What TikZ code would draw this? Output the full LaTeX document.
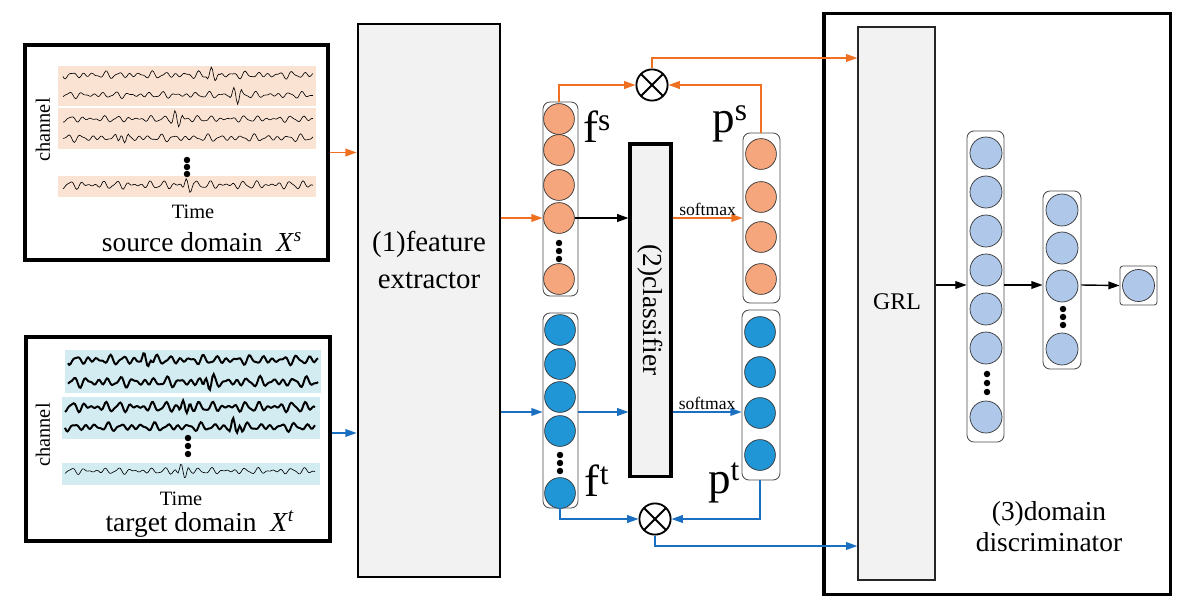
\documentclass[tikz,border=0pt]{standalone}
\usepackage{fontspec}
\setmainfont{Liberation Serif}[Ligatures=TeX]
\renewcommand{\familydefault}{\rmdefault}
\usetikzlibrary{arrows.meta,positioning}

\definecolor{boxgray}{HTML}{F2F2F2}
\definecolor{srcband}{HTML}{FBE3D4}
\definecolor{tgtband}{HTML}{D2ECF2}
\definecolor{srcnode}{HTML}{F5A67C}
\definecolor{tgtnode}{HTML}{2196D6}
\definecolor{disnode}{HTML}{AFC8EA}
\definecolor{srcline}{HTML}{F07021}
\definecolor{tgtline}{HTML}{1B6FC1}

% one EEG trace: x0, length, y, phase, amplitude, spike pos, spike height, style
\newcommand{\eegline}[8]{%
  \draw[#8] plot[domain=0:#2, samples=200] ({#1+\x},
    {#3 + #5*(0.45*sin(31*\x+#4) + 0.35*sin(23*\x+2*#4) + 0.3*sin(47*\x+3*#4))
      + #7*max(0,1-((\x-#6)/7)^2)*sin(45*(\x-#6))});
}

\begin{document}
\begin{tikzpicture}
  [x=0.025cm, y=-0.025cm, font=\rmfamily,
   panel/.style={draw=black, line width=2.2pt, fill=white},
   block/.style={draw=black, line width=2pt, fill=boxgray},
   grlblock/.style={draw=black!85, line width=1pt, fill=boxgray},
   layer/.style={draw=black!70, line width=0.6pt, rounded corners=5pt, fill=white, inner sep=0pt},
   unit/.style={circle, draw=black!80, line width=0.5pt, inner sep=0pt, minimum size=0.77cm},
   srcunit/.style={unit, fill=srcnode},
   tgtunit/.style={unit, fill=tgtnode},
   disunit/.style={unit, fill=disnode, minimum size=0.8cm},
   prod/.style={circle, draw=black, line width=1.3pt, minimum size=0.78cm, inner sep=0pt,
     path picture={\draw[line width=1.3pt]
       (path picture bounding box.north west) -- (path picture bounding box.south east)
       (path picture bounding box.north east) -- (path picture bounding box.south west);}},
   tip/.style={-{Triangle[length=8pt, width=5.5pt]}},
   srcwire/.style={tip, draw=srcline, line width=1pt},
   tgtwire/.style={tip, draw=tgtline, line width=1pt},
   blkwire/.style={tip, draw=black, line width=1pt},
   bigfont/.style={font=\rmfamily\fontsize{19.5}{22}\selectfont},
   midfont/.style={font=\rmfamily\fontsize{14.5}{16}\selectfont},
   symfont/.style={font=\rmfamily\fontsize{32}{34}\selectfont, inner sep=0pt},
   smallfont/.style={font=\rmfamily\fontsize{12.5}{14}\selectfont, inner sep=1pt},
   wave/.style={draw=black, line width=0.45pt},
   boldwave/.style={draw=black, line width=1.4pt}]

  \useasboundingbox (0,0) rectangle (1200,612);

  % source domain
  \node[panel, minimum width=7.575cm, minimum height=5.375cm] (src) at (176.5,152.5) {};
  \fill[srcband] (58,66) rectangle (316,106);
  \fill[srcband] (58,108) rectangle (316,149);
  \fill[srcband] (58,176) rectangle (316,197);
  \eegline{63}{250}{75}{10}{4}{150}{7}{wave}
  \eegline{63}{250}{95}{70}{3.5}{173}{8}{wave}
  \eegline{63}{250}{119}{35}{3.5}{114}{8}{wave}
  \eegline{63}{250}{138}{95}{4}{60}{7}{wave}
  \eegline{63}{250}{185}{50}{4.5}{125}{6}{wave}
  \foreach \yy in {160,167,174}
    \fill (187,\yy) circle[radius=2.3pt];
  \node[midfont, rotate=90] (srcch) at (43,130) {channel};
  \node[midfont] (srctime) at (193,212) {Time};
  \node[bigfont] (srcname) at (202,242) {source domain\enspace\textit{X}\textsuperscript{\textit{s}}};

  % target domain
  \node[panel, minimum width=7.6cm, minimum height=5.1cm] (tgt) at (178,439) {};
  \fill[tgtband] (65,350) rectangle (321,393);
  \fill[tgtband] (62,397) rectangle (320,439);
  \fill[tgtband] (62,463) rectangle (320,485);
  \eegline{68}{250}{360}{20}{5}{78}{7}{boldwave}
  \eegline{68}{250}{382}{80}{5.5}{140}{6}{boldwave}
  \eegline{65}{250}{407}{45}{5.5}{120}{6}{boldwave}
  \eegline{65}{250}{427}{5}{4.5}{170}{8}{boldwave}
  \eegline{65}{250}{471}{60}{3.5}{118}{7}{wave}
  \foreach \yy in {438,446,454}
    \fill (188,\yy) circle[radius=2.3pt];
  \node[midfont, rotate=90] (tgtch) at (43,435) {channel};
  \node[midfont] (tgttime) at (181,499) {Time};
  \node[bigfont] (tgtname) at (200,524) {target domain\enspace\textit{X}\textsuperscript{\textit{t}}};

  % (1) feature extractor
  \node[block, minimum width=3.55cm, minimum height=13.825cm] (fe) at (429,300.5) {};
  \node[font=\rmfamily\fontsize{20.5}{26}\selectfont, align=center] (fetext) at (429,260) {(1)feature\\extractor};

  % (2) classifier
  \node[block, line width=2.2pt, minimum width=1.025cm, minimum height=8.3cm] (cls) at (650.5,310) {};
  \node[bigfont, rotate=-90] (clstext) at (650.5,310) {(2)classifier};

  % feature and prediction layers
  \node[layer, minimum width=0.875cm, minimum height=4.85cm] (fs) at (560.5,199) {};
  \node[layer, minimum width=0.925cm, minimum height=4.25cm] (ps) at (761.5,218) {};
  \node[layer, minimum width=0.875cm, minimum height=4.875cm] (ft) at (560.5,410.5) {};
  \node[layer, minimum width=0.95cm, minimum height=4.25cm] (pt) at (761,395) {};
  \foreach \yy [count=\i] in {119,150,185,218,279}
    \node[srcunit] (fs\i) at (559,\yy) {};
  \foreach \yy [count=\i] in {154,197,237,279}
    \node[srcunit] (ps\i) at (761,\yy) {};
  \foreach \yy [count=\i] in {330,364,397,431,493}
    \node[tgtunit] (ft\i) at (560,\yy) {};
  \foreach \yy [count=\i] in {332,372,413,455}
    \node[tgtunit] (pt\i) at (760,\yy) {};
  \foreach \yy in {243,251,259}
    \fill (559,\yy) circle[radius=2.3pt];
  \foreach \yy in {455,463,471}
    \fill (560,\yy) circle[radius=2.3pt];
  \node[symfont] (fslbl) at (597,127) {f\textsuperscript{s}};
  \node[symfont] (pslbl) at (730,124) {p\textsuperscript{s}};
  \node[symfont] (ftlbl) at (597,481) {f\textsuperscript{t}};
  \node[symfont] (ptlbl) at (724,483) {p\textsuperscript{t}};

  % products
  \node[prod] (muls) at (652,85) {};
  \node[prod] (mult) at (655,519) {};

  % (3) domain discriminator
  \node[panel, minimum width=8.65cm, minimum height=14.5cm] (disc) at (997,304) {};
  \node[grlblock, minimum width=1.925cm, minimum height=13.825cm] (grl) at (896.5,303.5) {};
  \node[font=\rmfamily\fontsize{17}{19}\selectfont] (grltext) at (897,302) {GRL};
  \node[layer, minimum width=0.925cm, minimum height=7.775cm] (d1) at (985.5,286.5) {};
  \node[layer, minimum width=0.95cm, minimum height=4.45cm] (d2) at (1062,280) {};
  \node[layer, rounded corners=2pt, minimum width=0.925cm, minimum height=0.975cm] (out) at (1138.5,285.5) {};
  \foreach \yy [count=\i] in {153,192,231,270,309,348,417}
    \node[disunit] (d1u\i) at (986,\yy) {};
  \foreach \yy [count=\i] in {210,248,286,349}
    \node[disunit] (d2u\i) at (1062,\yy) {};
  \node[disunit] (o1) at (1138.5,285.5) {};
  \foreach \yy in {374,383,392}
    \fill (987,\yy) circle[radius=2.3pt];
  \foreach \yy in {309,317,325}
    \fill (1063,\yy) circle[radius=2.3pt];
  \node[bigfont, align=center] (disctext) at (1049,527) {(3)domain\\discriminator};

  % lanes
  \coordinate (tlane) at (600,412);
  \coordinate (slane) at (700,58);
  \coordinate (blane) at (700,546);
  \coordinate (dlane) at (1000,285);

  % source wires
  \draw[srcwire] (src.east) -- (src.east -| fe.west);
  \draw[srcwire] (fe.east |- fs4) -- (fs.west |- fs4);
  \draw[blkwire] (fs4.east) -- (cls.west |- fs4);
  \draw[srcwire] (cls.east |- fs4) -- node[smallfont, above] {softmax} (ps.west |- fs4);
  \draw[srcwire] (fs1.north |- fs.north) |- (muls.west);
  \draw[srcwire] (ps1.north |- ps.north) |- (muls.east);
  \draw[srcwire] (muls.north) |- (grl.west |- slane);

  % target wires
  \draw[tgtwire] ([yshift=0.15cm]tgt.east) -- ([yshift=0.15cm]tgt.east -| fe.west);
  \draw[tgtwire] (fe.east |- tlane) -- (ft.west |- tlane);
  \draw[tgtwire] (ft.east |- tlane) -- (cls.west |- tlane);
  \draw[tgtwire] (cls.east |- tlane) -- node[smallfont, above] {softmax} (pt.west |- tlane);
  \draw[tgtwire] (ft5.south |- ft.south) |- (mult.west);
  \draw[tgtwire] (pt4.south |- pt.south) |- (mult.east);
  \draw[tgtwire] (mult.south) |- (grl.west |- blane);

  % discriminator wires
  \draw[blkwire, line width=0.8pt] (grl.east |- dlane) -- (d1.west |- dlane);
  \draw[blkwire] (d1.east |- dlane) -- (d2.west |- dlane);
  \draw[blkwire] (d2.east |- dlane) -- (out.west);
\end{tikzpicture}
\end{document}
